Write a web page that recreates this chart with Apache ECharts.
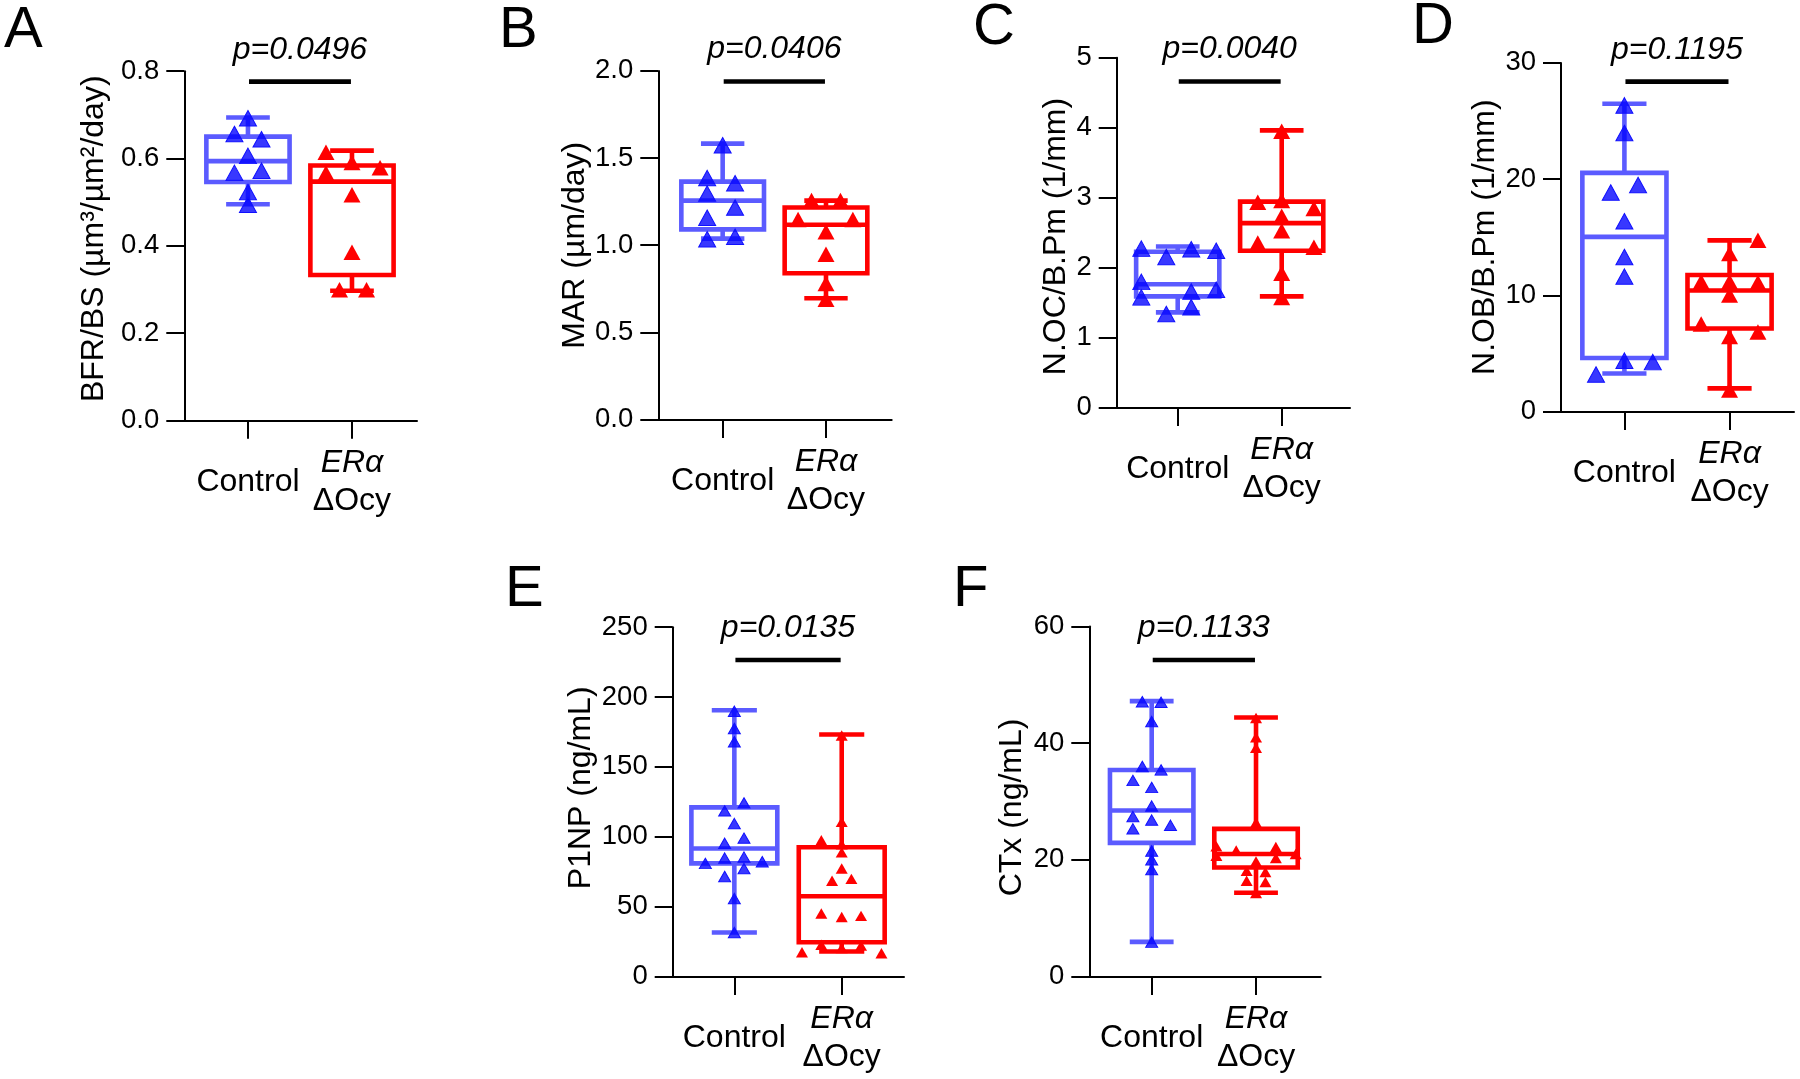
<!DOCTYPE html>
<html><head><meta charset="utf-8">
<script src="https://cdn.jsdelivr.net/npm/echarts@6/dist/echarts.min.js"></script>
<style>html,body{margin:0;padding:0;background:#fff}#c{width:1800px;height:1079px}</style>
</head><body><div id="c"></div>
<script>
// ---------------- DATA ----------------
const groups = ['Control', 'ERα\nΔOcy'];
const panelLetters = ['A', 'B', 'C', 'D', 'E', 'F'];
const yNames = ['BFR/BS (µm³/µm²/day)', 'MAR (µm/day)', 'N.OC/B.Pm (1/mm)', 'N.OB/B.Pm (1/mm)', 'P1NP (ng/mL)', 'CTx (ng/mL)'];
const pValues = ['p=0.0496', 'p=0.0406', 'p=0.0040', 'p=0.1195', 'p=0.0135', 'p=0.1133'];
const yMax = [0.8, 2.0, 5, 30, 250, 60];
const yStep = [0.2, 0.5, 1, 10, 50, 20];
const yDecimals = [1, 1, 0, 0, 0, 0];

// box stats: [min, Q1, median, Q3, max]
const aCtrlBox = [0.495, 0.546, 0.594, 0.650, 0.694];
const aKoBox   = [0.297, 0.333, 0.547, 0.584, 0.618];
const bCtrlBox = [1.038, 1.091, 1.256, 1.365, 1.583];
const bKoBox   = [0.696, 0.839, 1.117, 1.216, 1.256];
const cCtrlBox = [1.359, 1.587, 1.760, 2.225, 2.300];
const cKoBox   = [1.587, 2.240, 2.635, 2.942, 3.961];
const dCtrlBox = [3.27, 4.61, 15.03, 20.54, 26.48];
const dKoBox   = [1.99, 7.14, 10.41, 11.75, 14.73];
const eCtrlBox = [31.4, 80.9, 91.6, 121.0, 190.5];
const eKoBox   = [17.8, 24.5, 57.4, 92.5, 173.2];
const fCtrlBox = [5.92, 22.9, 28.46, 35.4, 47.2];
const fKoBox   = [14.34, 18.68, 21.0, 25.3, 44.4];

// individual points
const aCtrlPts = [0.692, 0.656, 0.644, 0.606, 0.567, 0.572, 0.523, 0.494];
const aKoPts   = [0.614, 0.591, 0.579, 0.567, 0.517, 0.385, 0.299, 0.299];
const bCtrlPts = [1.573, 1.385, 1.355, 1.296, 1.216, 1.157, 1.034, 1.048];
const bKoPts   = [1.256, 1.256, 1.147, 1.147, 1.077, 0.948, 0.780, 0.690];
const cCtrlPts = [2.27, 2.151, 2.26, 2.24, 1.795, 1.656, 1.681, 1.573, 1.433, 1.335];
const cKoPts   = [3.947, 2.932, 2.957, 2.843, 2.734, 2.527, 2.349, 2.289, 1.918, 1.573];
const dCtrlPts = [26.34, 23.96, 19.49, 18.84, 16.37, 13.30, 11.61, 4.375, 4.25, 3.18];
const dKoPts   = [14.73, 13.6, 11.16, 11.16, 11.1, 10.03, 7.53, 6.84, 6.46, 1.84];
const eCtrlPts = [189.8, 177.5, 168.0, 124.2, 118.5, 109.4, 99.0, 95.3, 80.9, 84.7, 85.4, 82.1, 77.2, 71.5, 55.7, 31.4];
const eKoPts   = [172.5, 110.6, 97.5, 94.5, 88.8, 77.2, 68.5, 69.8, 45.0, 42.5, 43.3, 22.7, 22.0, 20.3, 17.3, 16.6];
const fCtrlPts = [47.1, 47.0, 43.7, 36.0, 35.4, 33.6, 32.4, 29.2, 27.4, 26.8, 25.9, 25.3, 21.5, 20.0, 18.3, 5.87];
const fKoPts   = [44.3, 41.0, 39.2, 26.4, 22.3, 22.2, 21.6, 21.0, 20.7, 20.3, 19.7, 18.1, 17.9, 16.4, 16.2, 14.3];

// horizontal scatter offsets of the points (display jitter, in category units)
const aCtrlJit = [0, -0.13, 0.13, 0, -0.13, 0.13, 0, 0];
const aKoJit   = [-0.25, 0, 0.27, -0.25, 0, 0, -0.12, 0.14];
const bCtrlJit = [0, -0.15, 0.12, -0.15, 0.12, -0.15, -0.15, 0.12];
const bKoJit   = [-0.14, 0.14, -0.27, 0.26, 0, 0, 0, 0];
const cCtrlJit = [-0.35, -0.11, 0.13, 0.37, -0.35, 0.13, 0.37, -0.35, 0.13, -0.11];
const cKoJit   = [0, -0.23, 0, 0.31, 0, 0, -0.23, 0.31, 0, 0];
const dCtrlJit = [0, 0, 0.13, -0.13, 0, 0, 0, 0, 0.27, -0.27];
const dKoJit   = [0.27, 0, -0.27, 0, 0.27, 0, -0.27, 0.27, 0, 0];
const eCtrlJit = [0, 0, 0, 0.09, -0.09, 0, 0.09, -0.09, -0.27, -0.09, 0.09, 0.26, 0.09, -0.09, 0, 0];
const eKoJit   = [0, 0, -0.19, 0, 0, 0, -0.09, 0.09, -0.19, 0, 0.18, -0.19, 0.18, 0, -0.37, 0.37];
const fCtrlJit = [-0.09, 0.09, 0, -0.09, 0.09, -0.18, 0, 0, -0.18, 0, 0.18, -0.18, 0, 0, 0, 0];
const fKoJit   = [0, 0, 0, 0, -0.38, 0.19, -0.19, 0.38, -0.38, 0.19, 0, -0.09, 0.09, -0.09, 0.09, 0];

// ---------------- LAYOUT / STYLE ----------------
const FONT = '"Liberation Sans", Arial, Helvetica, sans-serif';
const CTRL_BOX = '#5b5bff';
const CTRL_PT = 'rgba(0,0,255,0.78)';
const KO = '#ff0000';
const layout = [
  {left: 184.3, top: 71.2, width: 232.7, height: 349.1, xMin: -0.612, xMax: 1.625, nameGap: 74, namePad: [0, 0, 0, 14], sigY: 0.776, sym: [17, 15.5], letter: [4, 31.2]},
  {left: 658.3, top: 70.9, width: 233.4, height: 348.6, xMin: -0.623, xMax: 1.636, nameGap: 67, namePad: [0, 0, 0, 0], sigY: 1.939, sym: [17, 15.5], letter: [499, 31.2]},
  {left: 1116.7, top: 57.7, width: 233.3, height: 349.7, xMin: -0.587, xMax: 1.657, nameGap: 45, namePad: [0, 8, 0, 0], sigY: 4.659, sym: [17, 15.5], letter: [973, 27.7]},
  {left: 1561, top: 62.9, width: 233, height: 348.6, xMin: -0.603, xMax: 1.613, nameGap: 60, namePad: [0, 0, 0, 0], sigY: 28.39, sym: [17, 15.5], letter: [1412, 26.8]},
  {left: 672.7, top: 627.2, width: 231.3, height: 349.2, xMin: -0.574, xMax: 1.58, nameGap: 76, namePad: [0, 0, 0, 28], sigY: 226.5, sym: [12, 10.4], letter: [505, 590.2]},
  {left: 1089.3, top: 626.5, width: 231.4, height: 349.9, xMin: -0.598, xMax: 1.62, nameGap: 61, namePad: [0, 12, 0, 0], sigY: 54.25, sym: [12, 10.4], letter: [953, 590.2]}
];

const boxes = [[aCtrlBox, aKoBox], [bCtrlBox, bKoBox], [cCtrlBox, cKoBox], [dCtrlBox, dKoBox], [eCtrlBox, eKoBox], [fCtrlBox, fKoBox]];
const points = [[aCtrlPts, aKoPts], [bCtrlPts, bKoPts], [cCtrlPts, cKoPts], [dCtrlPts, dKoPts], [eCtrlPts, eKoPts], [fCtrlPts, fKoPts]];
const jitters = [[aCtrlJit, aKoJit], [bCtrlJit, bKoJit], [cCtrlJit, cKoJit], [dCtrlJit, dKoJit], [eCtrlJit, eKoJit], [fCtrlJit, fKoJit]];

const LW = 4.6, HALF_BOX = 0.4, HALF_CAP = 0.21;

function boxRender(params, api) {
  const x = api.value(0);
  const mn = api.value(1), q1 = api.value(2), md = api.value(3), q3 = api.value(4), mx = api.value(5);
  const p = (a, b) => api.coord([a, b]);
  const col = params.dataIndex === 0 ? CTRL_BOX : KO;
  const st = {stroke: col, lineWidth: LW, fill: 'none'};
  const ln = (a, b) => ({type: 'line', shape: {x1: a[0], y1: a[1], x2: b[0], y2: b[1]}, style: st});
  const tl = p(x - HALF_BOX, q3), br = p(x + HALF_BOX, q1);
  return {type: 'group', children: [
    ln(p(x, q3), p(x, mx)),
    ln(p(x, q1), p(x, mn)),
    ln(p(x - HALF_CAP, mx), p(x + HALF_CAP, mx)),
    ln(p(x - HALF_CAP, mn), p(x + HALF_CAP, mn)),
    {type: 'rect', shape: {x: tl[0], y: tl[1], width: br[0] - tl[0], height: br[1] - tl[1]}, style: st},
    ln(p(x - HALF_BOX, md), p(x + HALF_BOX, md))
  ]};
}

function sigRenderFactory(text) {
  return function (params, api) {
    const y = api.value(2);
    const a = api.coord([api.value(0), y]);
    const b = api.coord([api.value(1), y]);
    const m = api.coord([0.5, y]);
    return {type: 'group', children: [
      {type: 'line', shape: {x1: a[0], y1: a[1], x2: b[0], y2: b[1]}, style: {stroke: '#000', lineWidth: LW}},
      {type: 'text', x: m[0], y: m[1] - 32, style: {text: text, font: 'italic 32px ' + FONT, fill: '#000', align: 'center', verticalAlign: 'middle'}}
    ]};
  };
}

const grids = [], xAxes = [], yAxes = [], series = [], graphics = [];
layout.forEach((L, i) => {
  grids.push({left: L.left, top: L.top, width: L.width, height: L.height, containLabel: false, outerBoundsMode: 'none'});
  xAxes.push({
    type: 'value', gridIndex: i, min: L.xMin, max: L.xMax,
    axisLine: {show: true, onZero: false, lineStyle: {color: '#000', width: 2}},
    axisTick: {show: true, customValues: [0, 1], length: 18.5, lineStyle: {color: '#000', width: 2}},
    axisLabel: {
      show: true, customValues: [0, 1], margin: 61.5, verticalAlign: 'middle',
      color: '#000', fontSize: 32, fontFamily: FONT, lineHeight: 38,
      formatter: function (v) {
        const g = groups[Math.round(v)];
        if (g.indexOf('\n') < 0) return g;
        const parts = g.split('\n');
        return '{i|' + parts[0] + '}\n{n|' + parts[1] + '}';
      },
      rich: {
        i: {fontStyle: 'italic', fontSize: 32, fontFamily: FONT, color: '#000', lineHeight: 38},
        n: {fontSize: 32, fontFamily: FONT, color: '#000', lineHeight: 38}
      }
    },
    splitLine: {show: false}
  });
  yAxes.push({
    type: 'value', gridIndex: i, min: 0, max: yMax[i], interval: yStep[i],
    name: yNames[i], nameLocation: 'middle', nameGap: L.nameGap, nameMoveOverlap: false,
    nameTextStyle: {color: '#000', fontSize: 32, fontFamily: FONT, padding: L.namePad},
    axisLine: {show: true, onZero: false, lineStyle: {color: '#000', width: 2}},
    axisTick: {show: true, length: 18, lineStyle: {color: '#000', width: 2}},
    axisLabel: {show: true, margin: 25, color: '#000', fontSize: 27.5, fontFamily: FONT,
      formatter: v => Number(v).toFixed(yDecimals[i])},
    splitLine: {show: false}
  });
  series.push({
    type: 'custom', xAxisIndex: i, yAxisIndex: i, silent: true,
    renderItem: boxRender,
    encode: {x: 0, y: [1, 2, 3, 4, 5]},
    data: boxes[i].map((b, k) => [k].concat(b)),
    z: 2
  });
  series.push({
    type: 'custom', xAxisIndex: i, yAxisIndex: i, silent: true,
    renderItem: sigRenderFactory(pValues[i]),
    encode: {x: [0, 1], y: 2},
    data: [[0.01, 0.99, L.sigY]],
    z: 2
  });
  [0, 1].forEach(k => {
    series.push({
      type: 'scatter', xAxisIndex: i, yAxisIndex: i, silent: true,
      symbol: 'triangle', symbolSize: L.sym,
      itemStyle: k === 0 ? {color: CTRL_PT, borderColor: '#1010ff', borderWidth: 1, opacity: 1} : {color: KO, opacity: 1},
      data: points[i][k].map((v, j) => [k + jitters[i][k][j], v]),
      z: 3
    });
  });
  graphics.push({
    type: 'text', x: L.letter[0], y: L.letter[1],
    style: {text: panelLetters[i], font: '58px ' + FONT, fill: '#000', align: 'left', verticalAlign: 'middle'}
  });
});

const chart = echarts.init(document.getElementById('c'), null, {renderer: 'canvas'});
chart.setOption({
  animation: false,
  backgroundColor: '#ffffff',
  grid: grids, xAxis: xAxes, yAxis: yAxes, series: series,
  graphic: graphics
});
</script></body></html>
